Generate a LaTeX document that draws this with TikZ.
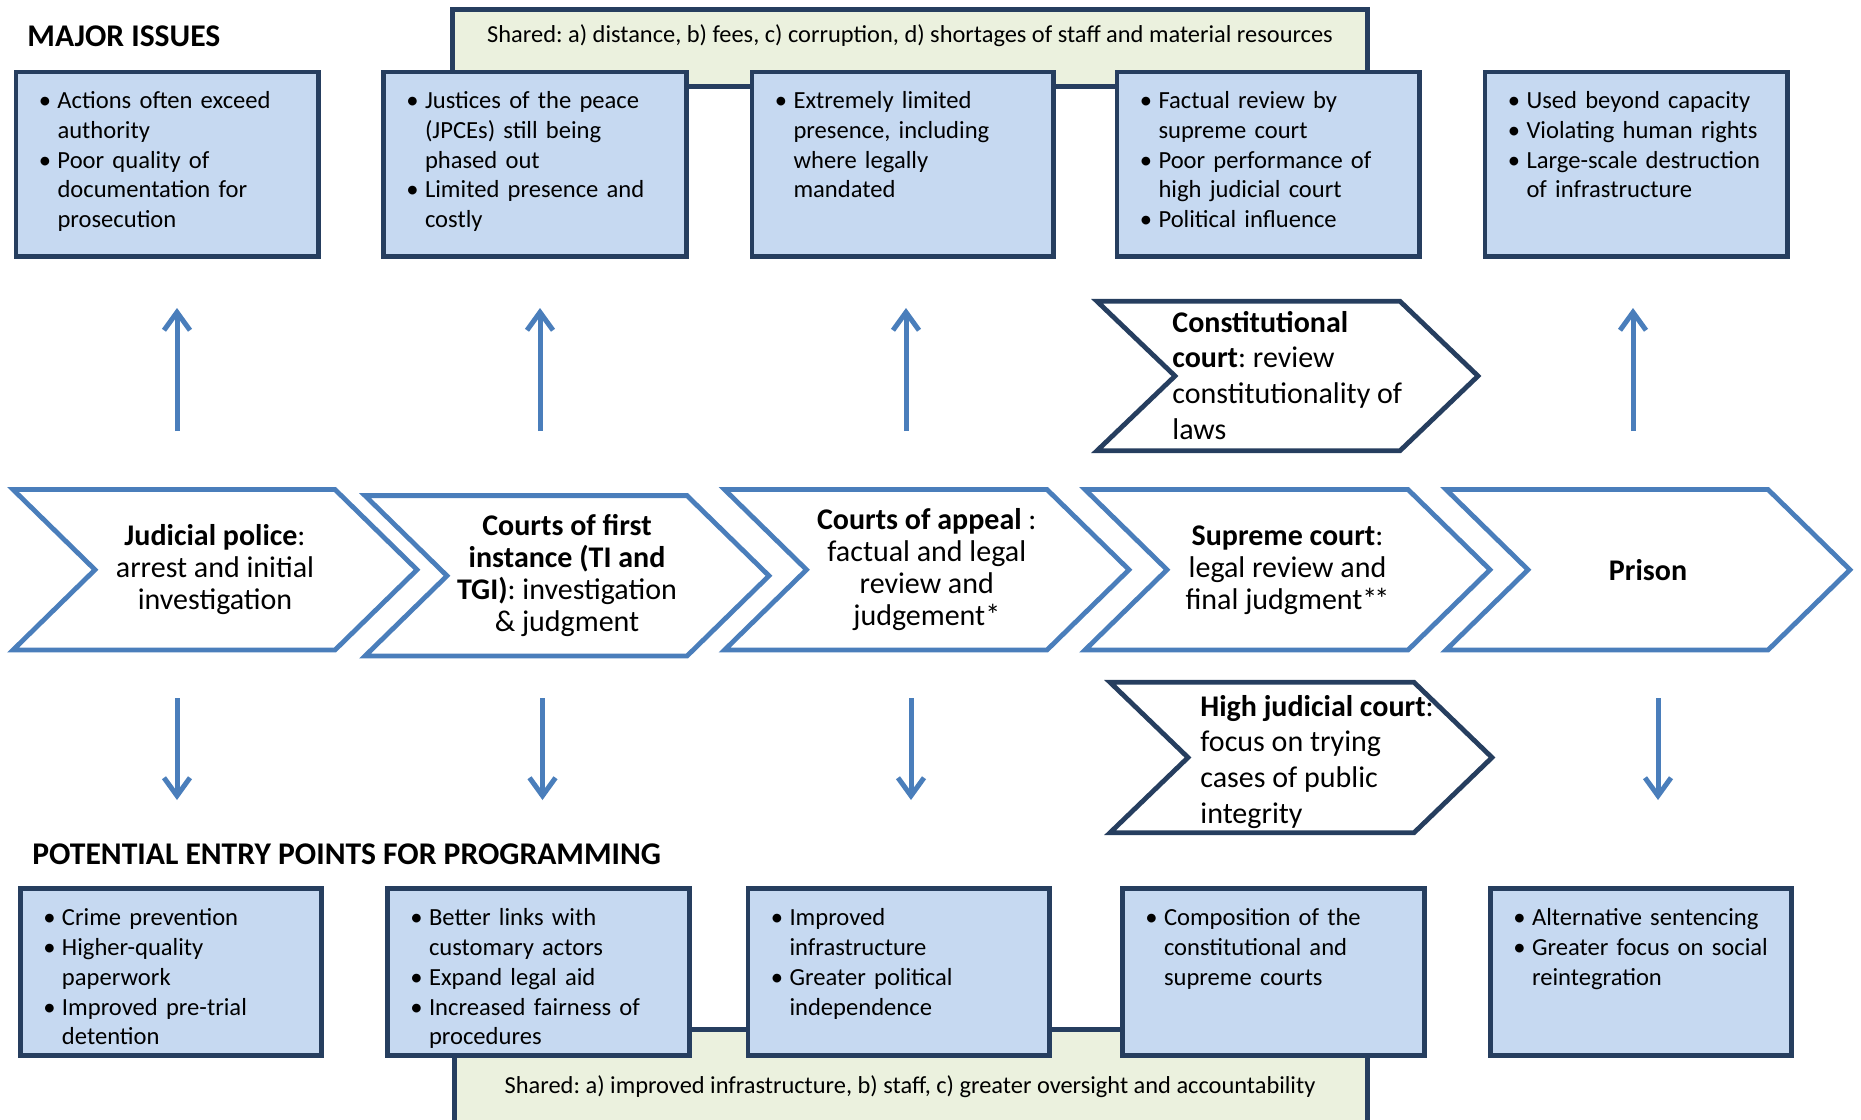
\documentclass[tikz,border=0pt]{standalone}
\usepackage{fontspec}
\setmainfont{Carlito}
\usetikzlibrary{arrows.meta}
\definecolor{boxfill}{RGB}{198,217,241}
\definecolor{navy}{RGB}{38,62,95}
\definecolor{greenfill}{RGB}{235,241,222}
\definecolor{chevblue}{RGB}{74,126,187}
\frenchspacing
\newcommand{\bitem}{\par\hangindent=9.3pt\hangafter=1\noindent\strut\hbox to 9.3pt{\textbullet\hfil}}
\newcommand{\nl}{\hfil\break}
\newcommand{\blockbox}[6]{\node[#1, minimum width={(#5-#3)*0.5pt-2.3pt}, minimum height={(#6-#4)*0.5pt-2.3pt}] (#2) at ({(#3+#5)/2},{(#4+#6)/2}) {};}
\newcommand{\chevron}[7]{%
  \draw[#1] (#3,#5) -- (#4,#5) -- ({#4+#7},{(#5+#6)/2}) -- (#4,#6) -- (#3,#6) -- ({#3+#7},{(#5+#6)/2}) -- cycle;
  \coordinate (#2) at ({(#3+#7+#4)/2},{(#5+#6)/2});}
\tikzset{
  issue/.style={draw=navy, line width=2.3pt, fill=boxfill, inner sep=0pt},
  sharedbox/.style={draw=navy, line width=2.3pt, fill=greenfill, inner sep=0pt},
  mainchev/.style={draw=chevblue, line width=2.4pt, fill=white, line join=miter},
  sidechev/.style={draw=navy, line width=2.4pt, fill=white, line join=miter},
  bullets/.style={anchor=north west, inner sep=0pt, text width=150pt, align=left, font=\fontsize{12.3}{14.9}\selectfont\frenchspacing},
  chevtext/.style={inner sep=0pt, align=center, font=\fontsize{15}{16}\selectfont\frenchspacing},
  sidetext/.style={anchor=north west, inner sep=0pt, align=left, font=\fontsize{15}{17.8}\selectfont\frenchspacing},
  heading/.style={anchor=base west, inner sep=0pt, font=\fontsize{15.8}{19}\selectfont\bfseries},
  sharedtext/.style={anchor=base, inner sep=0pt, font=\fontsize{12.2}{14.9}\selectfont\frenchspacing},
  flow/.style={draw=chevblue, line width=2.5pt, -{Straight Barb[length=9pt,width=13pt]}},
}
\begin{document}
\begin{tikzpicture}[x=0.5pt,y=-0.5pt]
\useasboundingbox (0,0) rectangle (1861,1119);
% shared boxes
\blockbox{sharedbox}{sharetop}{450}{7.3}{1370}{89}
\blockbox{sharedbox}{sharebot}{452}{1027}{1369.5}{1135}
\node[sharedtext] (sharetoptext) at (910,42.7) {Shared: a) distance, b) fees, c) corruption, d) shortages of staff and material resources};
\node[sharedtext] (sharebottext) at (910,1093) {Shared: a) improved infrastructure, b) staff, c) greater oversight and accountability};
% headings
\node[heading] (major) at (27,46.7) {MAJOR ISSUES};
\node[heading] (entry) at (32,864) {POTENTIAL ENTRY POINTS FOR PROGRAMMING};
% issue boxes
\blockbox{issue}{i1}{13.5}{69.5}{320.5}{259}
\blockbox{issue}{i2}{381}{69.5}{688.5}{259}
\blockbox{issue}{i3}{749.5}{69.5}{1056}{259}
\blockbox{issue}{i4}{1114.5}{69.5}{1422}{259}
\blockbox{issue}{i5}{1482.5}{69.5}{1790}{259}
\node[bullets] (ti1) at ([xshift=12.5pt,yshift=-4.4pt]i1.north west) {\bitem Actions often exceed\nl authority\bitem Poor quality of\nl documentation for\nl prosecution\par};
\node[bullets] (ti2) at ([xshift=12.5pt,yshift=-4.4pt]i2.north west) {\bitem Justices of the peace\nl (JPCEs) still being\nl phased out\bitem Limited presence and\nl costly\par};
\node[bullets] (ti3) at ([xshift=12.5pt,yshift=-4.4pt]i3.north west) {\bitem Extremely limited\nl presence, including\nl where legally\nl mandated\par};
\node[bullets] (ti4) at ([xshift=12.5pt,yshift=-4.4pt]i4.north west) {\bitem Factual review by\nl supreme court\bitem Poor performance of\nl high judicial court\bitem Political influence\par};
\node[bullets] (ti5) at ([xshift=12.5pt,yshift=-4.4pt]i5.north west) {\bitem Used beyond capacity\bitem Violating human rights\bitem Large-scale destruction\nl of infrastructure\par};
% entry boxes
\blockbox{issue}{e1}{18}{886}{324}{1058}
\blockbox{issue}{e2}{385}{886}{691.5}{1058}
\blockbox{issue}{e3}{745.5}{886}{1052}{1058}
\blockbox{issue}{e4}{1120}{886}{1427}{1058}
\blockbox{issue}{e5}{1488}{886}{1794}{1058}
\node[bullets] (te1) at ([xshift=12.5pt,yshift=-4.7pt]e1.north west) {\bitem Crime prevention\bitem Higher-quality\nl paperwork\bitem Improved pre-trial\nl detention\par};
\node[bullets] (te2) at ([xshift=12.5pt,yshift=-4.7pt]e2.north west) {\bitem Better links with\nl customary actors\bitem Expand legal aid\bitem Increased fairness of\nl procedures\par};
\node[bullets] (te3) at ([xshift=12.5pt,yshift=-4.7pt]e3.north west) {\bitem Improved\nl infrastructure\bitem Greater political\nl independence\par};
\node[bullets] (te4) at ([xshift=12.5pt,yshift=-4.7pt]e4.north west) {\bitem Composition of the\nl constitutional and\nl supreme courts\par};
\node[bullets] (te5) at ([xshift=12.5pt,yshift=-4.7pt]e5.north west) {\bitem Alternative sentencing\bitem Greater focus on social\nl reintegration\par};
% main chevrons
\chevron{mainchev}{c1}{13}{335}{489.5}{650}{82}
\chevron{mainchev}{c2}{365}{687}{495.6}{656}{82}
\chevron{mainchev}{c3}{724.5}{1047}{489.5}{650}{82}
\chevron{mainchev}{c4}{1085}{1408}{489.5}{650}{82}
\chevron{mainchev}{c5}{1446}{1768}{489.5}{650}{82}
\node[chevtext] (tc1) at (c1) {\textbf{Judicial police}:\\arrest and initial\\investigation};
\node[chevtext] (tc2) at (c2) {\textbf{Courts of first}\\\textbf{instance (TI and}\\\textbf{TGI)}: investigation\\\& judgment};
\node[chevtext] (tc3) at (c3) {\textbf{Courts of appeal} :\\factual and legal\\review and\\judgement*};
\node[chevtext] (tc4) at (c4) {\textbf{Supreme court}:\\legal review and\\final judgment*\kern-1.5pt*};
\node[chevtext] (tc5) at (c5) {\textbf{Prison}};
% side chevrons
\chevron{sidechev}{cc}{1097}{1400}{301.3}{450.7}{78}
\chevron{sidechev}{hc}{1110}{1414}{682.3}{832.7}{78}
\node[sidetext] (tcc) at (1172,307) {\strut\textbf{Constitutional}\\\textbf{court}: review\\constitutionality of\\laws};
\node[sidetext] (thc) at (1200,691) {\strut\textbf{High judicial court}:\\focus on trying\\cases of public\\integrity};
% arrows up
\coordinate (u1s) at (177,431); \coordinate (u1e) at (177,308);
\coordinate (u2s) at (540,431); \coordinate (u2e) at (540,308);
\coordinate (u3s) at (906,431); \coordinate (u3e) at (906,308);
\coordinate (u5s) at (1633,431); \coordinate (u5e) at (1633,308);
\draw[flow] (u1s) -- (u1e);
\draw[flow] (u2s) -- (u2e);
\draw[flow] (u3s) -- (u3e);
\draw[flow] (u5s) -- (u5e);
% arrows down
\coordinate (d1s) at (177,698); \coordinate (d1e) at (177,800);
\coordinate (d2s) at (542.5,698); \coordinate (d2e) at (542.5,800);
\coordinate (d3s) at (911,698); \coordinate (d3e) at (911,800);
\coordinate (d5s) at (1658,698); \coordinate (d5e) at (1658,800);
\draw[flow] (d1s) -- (d1e);
\draw[flow] (d2s) -- (d2e);
\draw[flow] (d3s) -- (d3e);
\draw[flow] (d5s) -- (d5e);
\end{tikzpicture}
\end{document}
